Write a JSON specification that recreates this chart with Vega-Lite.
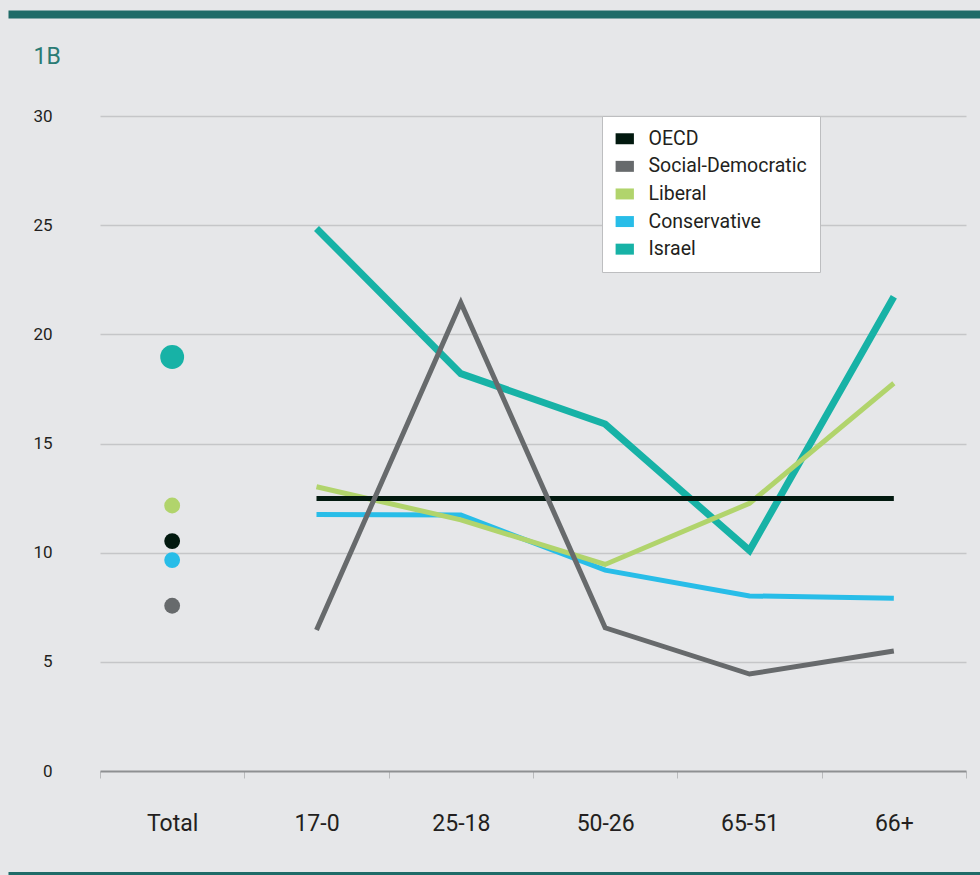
{
  "$schema": "https://vega.github.io/schema/vega-lite/v6.json",
  "width": 866,
  "height": 655,
  "autosize": {"type": "none"},
  "padding": {"left": 100, "top": 116, "right": 14, "bottom": 104},
  "background": "#e6e7e9",
  "config": {"view": {"stroke": null}, "font": "Roboto"},
  "datasets": {
    "lines": [
      {"series": "Israel", "age": "17-0", "value": 24.85},
      {"series": "Israel", "age": "25-18", "value": 18.2},
      {"series": "Israel", "age": "50-26", "value": 15.89},
      {"series": "Israel", "age": "65-51", "value": 10.1},
      {"series": "Israel", "age": "66+", "value": 21.72},
      {"series": "Conservative", "age": "17-0", "value": 11.75},
      {"series": "Conservative", "age": "25-18", "value": 11.72},
      {"series": "Conservative", "age": "50-26", "value": 9.2},
      {"series": "Conservative", "age": "65-51", "value": 8.02},
      {"series": "Conservative", "age": "66+", "value": 7.91},
      {"series": "Liberal", "age": "17-0", "value": 13.02},
      {"series": "Liberal", "age": "25-18", "value": 11.5},
      {"series": "Liberal", "age": "50-26", "value": 9.46},
      {"series": "Liberal", "age": "65-51", "value": 12.26},
      {"series": "Liberal", "age": "66+", "value": 17.76},
      {"series": "OECD", "age": "17-0", "value": 12.48},
      {"series": "OECD", "age": "25-18", "value": 12.48},
      {"series": "OECD", "age": "50-26", "value": 12.48},
      {"series": "OECD", "age": "65-51", "value": 12.48},
      {"series": "OECD", "age": "66+", "value": 12.48},
      {"series": "Social-Democratic", "age": "17-0", "value": 6.46},
      {"series": "Social-Democratic", "age": "25-18", "value": 21.45},
      {"series": "Social-Democratic", "age": "50-26", "value": 6.56},
      {"series": "Social-Democratic", "age": "65-51", "value": 4.44},
      {"series": "Social-Democratic", "age": "66+", "value": 5.5}
    ],
    "totals": [
      {"series": "Israel", "age": "Total", "value": 18.96},
      {"series": "Liberal", "age": "Total", "value": 12.16},
      {"series": "OECD", "age": "Total", "value": 10.53},
      {"series": "Conservative", "age": "Total", "value": 9.66},
      {"series": "Social-Democratic", "age": "Total", "value": 7.57}
    ],
    "decor": [{"k": "a"}]
  },
  "layer": [
    {
      "encoding": {
        "x": {
          "field": "age",
          "type": "nominal",
          "scale": {"type": "band", "domain": ["Total", "17-0", "25-18", "50-26", "65-51", "66+"], "paddingInner": 0, "paddingOuter": 0},
          "axis": {
            "orient": "bottom",
            "title": null,
            "labelAngle": 0,
            "tickBand": "extent",
            "tickSize": 7,
            "tickColor": "#b9babc",
            "tickWidth": 1,
            "domainColor": "#8e9092",
            "domainWidth": 2,
            "labelFont": "Roboto",
            "labelFontSize": 23,
            "labelColor": "#231f20",
            "labelPadding": 34,
            "grid": false
          }
        },
        "y": {
          "field": "value",
          "type": "quantitative",
          "scale": {"domain": [0, 30], "nice": false},
          "axis": {
            "values": [0, 5, 10, 15, 20, 25, 30],
            "title": "1B",
            "titleAngle": 0,
            "titleX": -67,
            "titleY": -53,
            "titleAlign": "left",
            "titleBaseline": "alphabetic",
            "titleColor": "#2a7b74",
            "titleFontSize": 23,
            "titleFontWeight": "normal",
            "titleFont": "Roboto",
            "domain": false,
            "ticks": false,
            "tickSize": 0,
            "labelPadding": 48,
            "labelFont": "Roboto",
            "labelFontSize": 17,
            "labelColor": "#231f20",
            "gridColor": {"condition": {"test": "datum.value === 0", "value": "transparent"}, "value": "#c5c6c8"},
            "gridWidth": 1.3
          }
        },
        "color": {
          "field": "series",
          "type": "nominal",
          "scale": {
            "domain": ["OECD", "Social-Democratic", "Liberal", "Conservative", "Israel"],
            "range": ["#02190f", "#676a6c", "#b1d46c", "#28bde8", "#17b2a6"]
          },
          "legend": {
            "title": null,
            "orient": "none",
            "legendX": 502,
            "legendY": 0,
            "fillColor": "white",
            "strokeColor": "#bdbec0",
            "padding": 13,
            "symbolType": "M-1,-0.6H1V0.6H-1Z",
            "symbolSize": 335,
            "symbolStrokeWidth": 0,
            "labelFont": "Roboto",
            "labelFontSize": 19.5,
            "labelColor": "#231f20",
            "labelOffset": 14,
            "rowPadding": 6.6,
            "encode": {"symbols": {"update": {"fill": {"scale": "color", "field": "value"}, "opacity": {"value": 1}, "strokeWidth": {"value": 0}}}}
          }
        }
      },
      "layer": [
        {
          "data": {"name": "lines"},
          "transform": [{"filter": "datum.series === 'Israel'"}],
          "mark": {"type": "line", "strokeWidth": 7, "strokeCap": "butt"}
        },
        {
          "data": {"name": "lines"},
          "transform": [{"filter": "datum.series !== 'Israel'"}],
          "mark": {"type": "line", "strokeWidth": 5, "strokeCap": "butt"}
        },
        {
          "data": {"name": "totals"},
          "mark": {"type": "circle", "opacity": 1},
          "encoding": {
            "size": {"condition": {"test": "datum.series === 'Israel'", "value": 570}, "value": 250}
          }
        }
      ]
    },
    {
      "data": {"name": "decor"},
      "mark": {"type": "point", "opacity": 0},
      "encoding": {
        "x": {
          "field": "k",
          "type": "nominal",
          "scale": {"type": "band", "range": [-92, 880]},
          "axis": {"orient": "top", "offset": 102, "domainColor": "#1f6b68", "domainWidth": 8, "ticks": false, "labels": false, "grid": false, "title": null}
        }
      }
    },
    {
      "data": {"name": "decor"},
      "mark": {"type": "point", "opacity": 0},
      "encoding": {
        "x": {
          "field": "k",
          "type": "nominal",
          "scale": {"type": "band", "range": [-92, 880]},
          "axis": {"orient": "bottom", "offset": 102, "domainColor": "#1f6b68", "domainWidth": 3, "ticks": false, "labels": false, "grid": false, "title": null}
        }
      }
    }
  ],
  "resolve": {"scale": {"x": "independent"}, "axis": {"x": "independent"}}
}
